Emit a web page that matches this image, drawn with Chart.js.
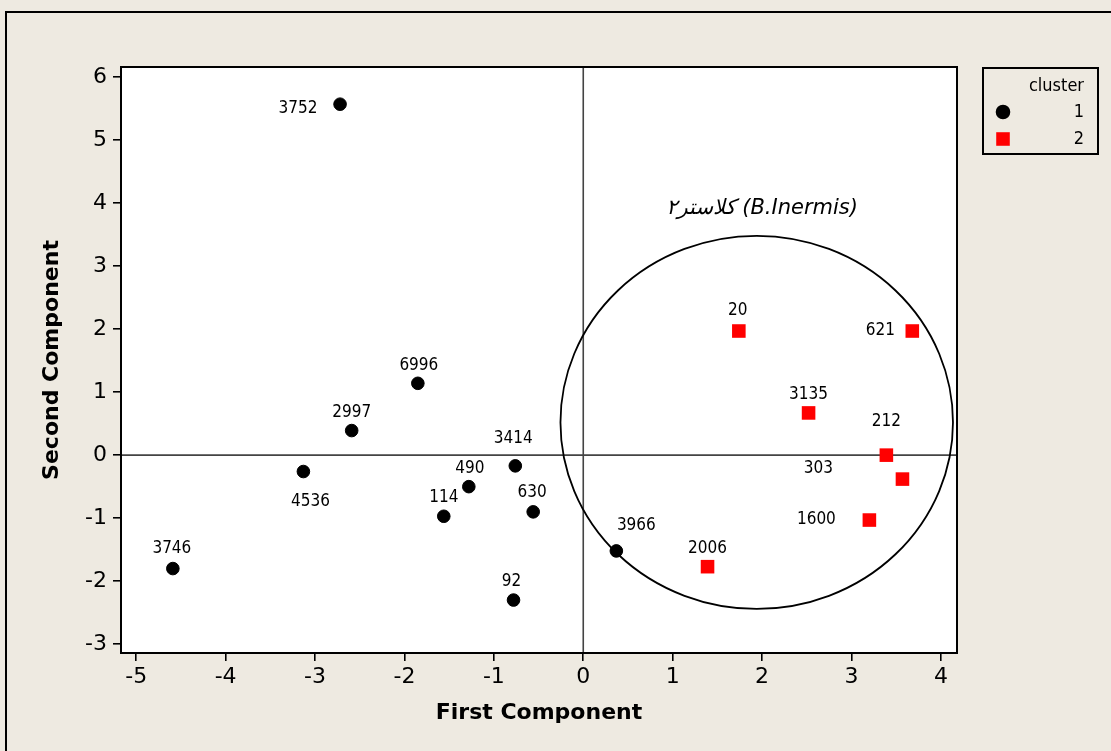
<!DOCTYPE html>
<html>
<head>
<meta charset="utf-8">
<script src="https://cdn.jsdelivr.net/npm/chart.js@4.4.0/dist/chart.umd.min.js"></script>
<style>
  html, body { margin: 0; padding: 0; background: #EEEAE1; }
  #wrap { position: relative; width: 1111px; height: 751px; }
</style>
</head>
<body>
<div id="wrap"><canvas id="grafico"></canvas></div>
<script>
// cluster 1 (puntos negros)
const nombres1 = ['3752', '6996', '2997', '4536', '3746', '490', '114', '3414', '630', '92', '3966'];
const x1 = [-2.72, -1.85, -2.59, -3.13, -4.59, -1.28, -1.56, -0.76, -0.56, -0.78, 0.37];
const y1 = [5.57, 1.14, 0.39, -0.26, -1.80, -0.50, -0.97, -0.17, -0.90, -2.30, -1.52];

// cluster 2 (cuadrados rojos)
const nombres2 = ['20', '621', '3135', '212', '303', '1600', '2006'];
const x2 = [1.74, 3.68, 2.52, 3.39, 3.57, 3.20, 1.39];
const y2 = [1.97, 1.97, 0.67, 0.00, -0.38, -1.03, -1.77];

const ticksX = [-5, -4, -3, -2, -1, 0, 1, 2, 3, 4];
const ticksY = [-3, -2, -1, 0, 1, 2, 3, 4, 5, 6];

const tituloX = 'First Component';
const tituloY = 'Second Component';
const tituloLeyenda = 'cluster';
const anotacion = 'کلاستر۲ (B.Inermis)';

// donde va cada etiqueta respecto a su punto (px)
const desplazamiento = {
  '3752': [-42, 4], '6996': [1, -18], '2997': [0, -18], '4536': [7, 30], '3746': [-1, -20],
  '490': [1, -18], '114': [0, -19], '3414': [-2, -27], '630': [-1, -19], '92': [-2, -18],
  '3966': [20, -25], '20': [-1, -20], '621': [-32, 0], '3135': [0, -18], '212': [0, -34],
  '303': [-84, -11], '1600': [-53, 0], '2006': [0, -18]
};

// elipse del cluster 2, en unidades de los ejes
const elipse = { cx: 1.94, cy: 0.52, rx: 2.195, ry: 2.96 };
const posAnotacion = { x: 2.0, y: 3.92 };

const fuente = 'DejaVu Sans';
const fuenteEtiquetas = '"DejaVu Sans Condensed", "DejaVu Sans"';
const fondo = '#EEEAE1';

const dibujos = {
  id: 'dibujos',
  beforeDraw(chart) {
    const { ctx, chartArea: a } = chart;
    ctx.save();
    ctx.fillStyle = fondo;
    ctx.fillRect(0, 0, chart.width, chart.height);
    // marco exterior
    ctx.strokeStyle = '#000';
    ctx.lineWidth = 2;
    ctx.beginPath();
    ctx.moveTo(6, chart.height);
    ctx.lineTo(6, 12);
    ctx.lineTo(chart.width, 12);
    ctx.stroke();
    ctx.fillStyle = '#fff';
    ctx.fillRect(a.left, a.top, a.width, a.height);
    ctx.restore();
  },
  beforeDatasetsDraw(chart) {
    const { ctx, chartArea: a } = chart;
    const sx = chart.scales.x, sy = chart.scales.y;
    ctx.save();
    // lineas del cero
    ctx.strokeStyle = '#444';
    ctx.lineWidth = 1.6;
    const x0 = sx.getPixelForValue(0), y0 = sy.getPixelForValue(0);
    ctx.beginPath();
    ctx.moveTo(x0, a.top); ctx.lineTo(x0, a.bottom);
    ctx.moveTo(a.left, y0); ctx.lineTo(a.right, y0);
    ctx.stroke();
    // elipse
    const cx = sx.getPixelForValue(elipse.cx), cy = sy.getPixelForValue(elipse.cy);
    const rx = sx.getPixelForValue(elipse.cx + elipse.rx) - cx;
    const ry = cy - sy.getPixelForValue(elipse.cy + elipse.ry);
    ctx.strokeStyle = '#000';
    ctx.lineWidth = 1.8;
    ctx.beginPath();
    ctx.ellipse(cx, cy, rx, ry, 0, 0, Math.PI * 2);
    ctx.stroke();
    // texto del cluster
    ctx.fillStyle = '#000';
    ctx.font = 'italic 21px "' + fuente + '"';
    ctx.textAlign = 'center';
    ctx.textBaseline = 'middle';
    ctx.direction = 'ltr';
    ctx.fillText(anotacion, sx.getPixelForValue(posAnotacion.x), sy.getPixelForValue(posAnotacion.y));
    // borde del area
    ctx.lineWidth = 2;
    ctx.strokeRect(a.left, a.top, a.width, a.height);
    ctx.restore();
  },
  afterDatasetsDraw(chart) {
    const { ctx } = chart;
    ctx.save();
    ctx.fillStyle = '#000';
    ctx.font = '17px ' + fuenteEtiquetas;
    ctx.textAlign = 'center';
    ctx.textBaseline = 'middle';
    chart.data.datasets.forEach((ds, i) => {
      const meta = chart.getDatasetMeta(i);
      meta.data.forEach((p, j) => {
        const nombre = ds.nombres[j];
        const d = desplazamiento[nombre] || [0, -18];
        ctx.fillText(nombre, p.x + d[0], p.y + d[1]);
      });
    });
    // leyenda
    ctx.lineWidth = 2;
    ctx.strokeStyle = '#000';
    ctx.strokeRect(983, 68, 115, 86);
    ctx.font = '18px ' + fuenteEtiquetas;
    ctx.textAlign = 'right';
    ctx.fillText(tituloLeyenda, 1084, 86);
    chart.data.datasets.forEach((ds, i) => {
      const y = 112 + i * 27;
      ctx.fillStyle = '#000';
      ctx.fillText(ds.label, 1084, y);
      ctx.fillStyle = ds.backgroundColor;
      ctx.strokeStyle = ds.borderColor;
      Chart.helpers.drawPoint(ctx, {
        pointStyle: ds.pointStyle, radius: ds.pointRadius, borderWidth: ds.borderWidth
      }, 1003, y);
    });
    ctx.restore();
  }
};

const ctx = document.getElementById('grafico').getContext('2d');

const grafico = new Chart(ctx, {
  type: 'scatter',
  data: {
    datasets: [{
      label: '1',
      nombres: nombres1,
      data: x1.map((x, i) => ({ x: x, y: y1[i] })),
      pointStyle: 'circle',
      pointRadius: 6.3,
      backgroundColor: '#000',
      borderColor: '#000',
      borderWidth: 1
    }, {
      label: '2',
      nombres: nombres2,
      data: x2.map((x, i) => ({ x: x, y: y2[i] })),
      pointStyle: 'rect',
      pointRadius: 9.6,
      backgroundColor: '#FF0000',
      borderColor: '#FF0000',
      borderWidth: 0
    }]
  },
  options: {
    responsive: true,
    maintainAspectRatio: false,
    animation: false,
    events: [],
    layout: { padding: { top: 67, right: 154, bottom: 0, left: 0 } },
    plugins: { legend: { display: false }, tooltip: { enabled: false } },
    scales: {
      x: {
        type: 'linear',
        min: -5.17,
        max: 4.18,
        afterBuildTicks: s => { s.ticks = ticksX.map(v => ({ value: v })); },
        afterFit: s => { s.height = 98; },
        border: { display: false },
        grid: { drawOnChartArea: false, tickLength: 8, color: '#000', lineWidth: 1.6 },
        ticks: { color: '#000', padding: 3, font: { family: fuente, size: 22 } },
        title: {
          display: true, text: tituloX, color: '#000',
          font: { family: fuente, size: 22, weight: 'bold' },
          padding: { top: 0, bottom: 25 }
        }
      },
      y: {
        type: 'linear',
        min: -3.14,
        max: 6.16,
        afterBuildTicks: s => { s.ticks = ticksY.map(v => ({ value: v })); },
        afterFit: s => { s.width = 121; },
        border: { display: false },
        grid: { drawOnChartArea: false, tickLength: 8, color: '#000', lineWidth: 1.6 },
        ticks: { color: '#000', padding: 6, font: { family: fuente, size: 22 } },
        title: {
          display: true, text: tituloY, color: '#000',
          font: { family: fuente, size: 22, weight: 'bold' },
          padding: { top: 39, bottom: 0 }
        }
      }
    }
  },
  plugins: [dibujos]
});
</script>
</body>
</html>
